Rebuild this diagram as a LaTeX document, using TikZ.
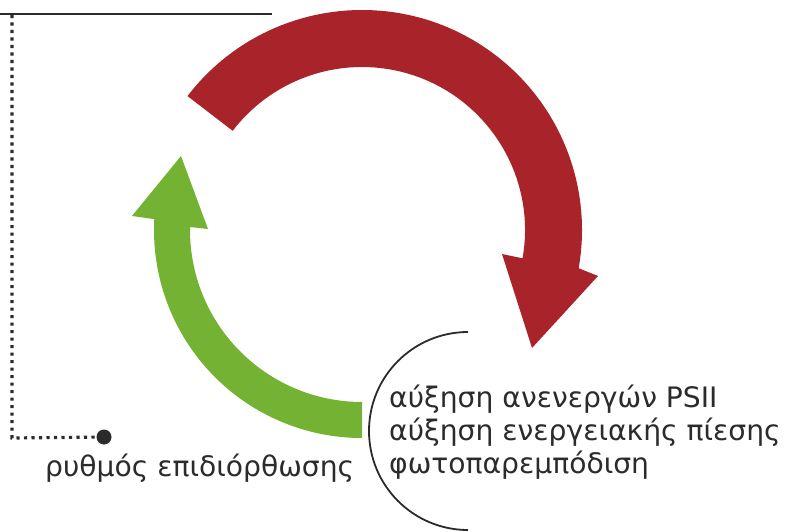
\documentclass[tikz,border=0pt]{standalone}
\usepackage{fontspec}
\setmainfont{DejaVu Sans}
\definecolor{arrred}{RGB}{168,35,42}
\definecolor{arrgreen}{RGB}{116,178,52}
\definecolor{ink}{RGB}{43,43,43}
\begin{document}
\begin{tikzpicture}[x=1pt,y=1pt,
  lbl/.style={anchor=base west,inner sep=0pt,text=ink,font=\fontsize{28.2}{33}\selectfont},
  dotline/.style={draw=ink,line width=3.2pt,dash pattern=on 3.2pt off 4.3pt},
  ctr/.style={shift={(362,301)}}]
\useasboundingbox (0,0) rectangle (789,531);
% red arrow
\fill[arrred] ([ctr]142.5:220pt) arc[start angle=142.5,end angle=-10,radius=220pt]
  -- (598,255) -- (532,183) -- (502,277)
  -- ([ctr]-10:163pt) arc[start angle=-10,end angle=142.5,radius=163pt] -- cycle;
% green arrow
\fill[arrgreen] ([ctr]270:208pt) arc[start angle=270,end angle=177,radius=208pt]
  -- (132,315) -- (181,375) -- (208,302)
  -- ([ctr]179:172pt) arc[start angle=179,end angle=270,radius=172pt] -- cycle;
% top line and dotted bracket
\coordinate (l0) at (0,517);
\coordinate (l1) at (272,517);
\draw[ink,line width=2.2pt] (l0) -- (l1);
\coordinate (dtop) at (12,516);
\coordinate (dcorner) at (12,93);
\node[circle,fill=ink,inner sep=0pt,minimum size=15pt] (dot) at (104,94) {};
\draw[dotline] (dtop) -- (dcorner) -- (dot.center);
% semicircle bracket
\coordinate (btop) at (468,199);
\draw[ink,line width=1.8pt] (btop) arc[start angle=90,end angle=270,radius=99pt];
% texts
\node[lbl] (rate) at (45,55) {ρυθμός επιδιόρθωσης};
\node[lbl] (t1) at (389,124) {αύξηση ανενεργών PSII};
\node[lbl] (t2) at (389,91) {αύξηση ενεργειακής πίεσης};
\node[lbl] (t3) at (389,58) {φωτοπαρεμπόδιση};
\end{tikzpicture}
\end{document}
